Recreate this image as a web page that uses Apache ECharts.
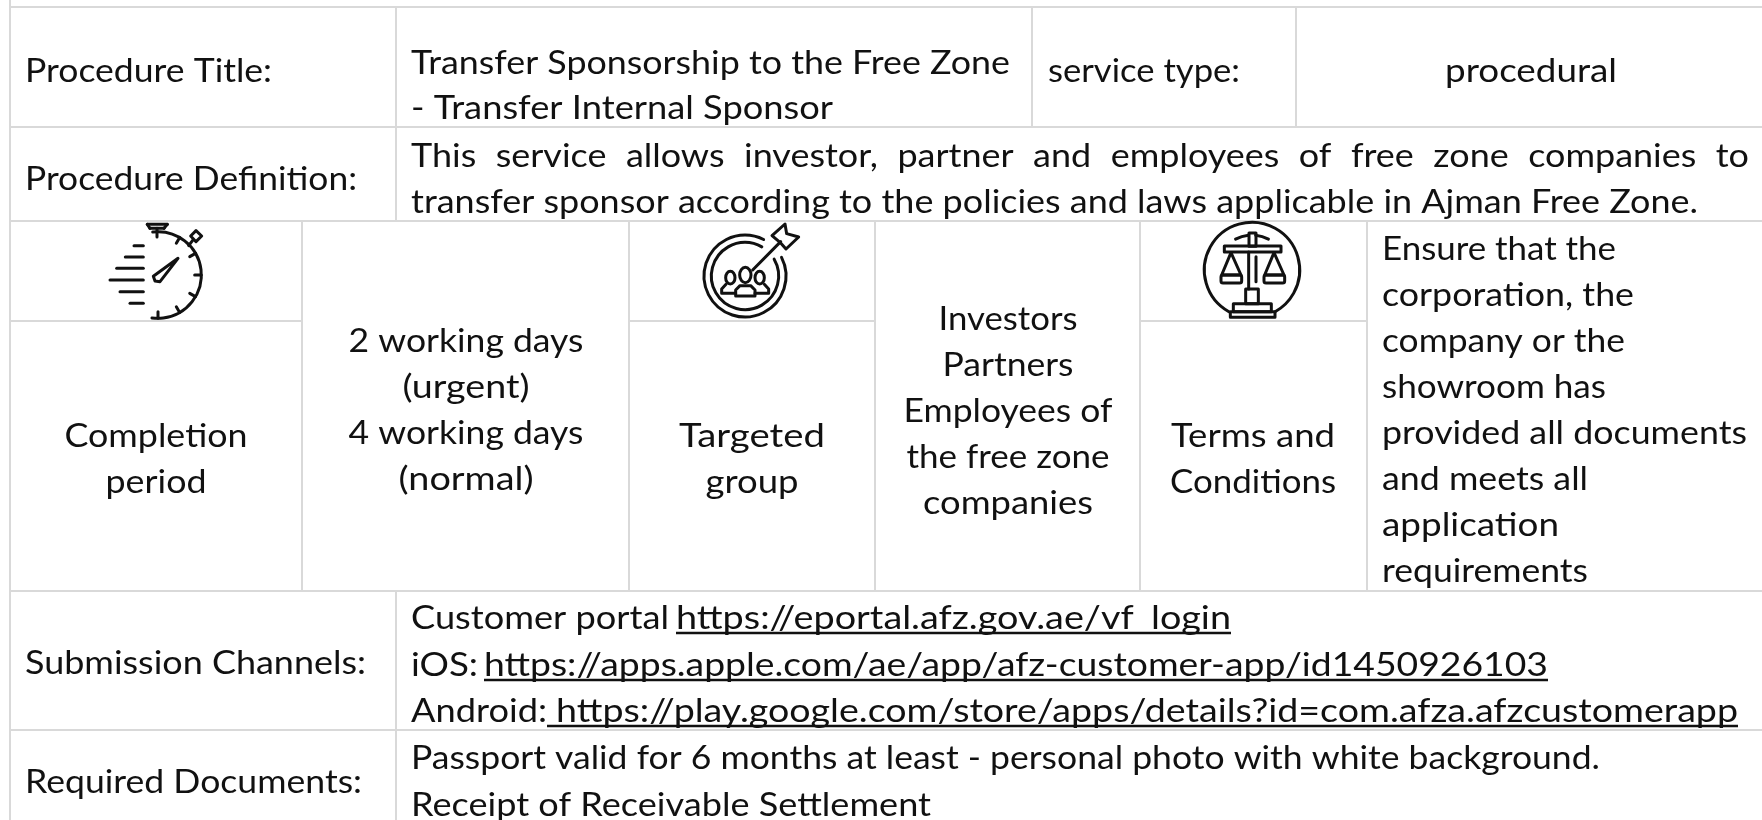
<!DOCTYPE html>
<html>
<head>
<meta charset="utf-8">
<style>
html, body { margin: 0; padding: 0; background: #fff; }
#main { width: 1762px; height: 820px; }
</style>
<script src="https://cdn.jsdelivr.net/npm/echarts@6/dist/echarts.min.js"></script>
</head>
<body>
<div id="main"></div>
<script>
// table text
const procedureTitleLabel = ["Procedure Title:"]
const procedureTitle = ["Transfer Sponsorship to the Free Zone", "- Transfer Internal Sponsor"]
const serviceTypeLabel = ["service type:"]
const serviceType = ["procedural"]
const definitionLabel = ["Procedure Definition:"]
const definitionJustified = ["This service allows investor, partner and employees of free zone companies to"]
const definitionLast = ["transfer sponsor according to the policies and laws applicable in Ajman Free Zone."]
const completionLabel = ["Completion", "period"]
const completionValue = ["2 working days", "(urgent)", "4 working days", "(normal)"]
const targetLabel = ["Targeted", "group"]
const targetValue = ["Investors", "Partners", "Employees of", "the free zone", "companies"]
const termsLabel = ["Terms and", "Conditions"]
const termsValue = ["Ensure that the", "corporation, the", "company or the", "showroom has", "provided all documents", "and meets all", "application", "requirements"]
const channelsLabel = ["Submission Channels:"]
const channelNames = ["Customer portal", "iOS:", "Android:"]
const channelLinks = ["https://eportal.afz.gov.ae/vf_login", "https://apps.apple.com/ae/app/afz-customer-app/id1450926103", "https://play.google.com/store/apps/details?id=com.afza.afzcustomerapp"]
const documentsLabel = ["Required Documents:"]
const documentsValue = ["Passport valid for 6 months at least - personal photo with white background.", "Receipt of Receivable Settlement"]

const FONT = "32px Lato"
const INK = "#111"
const RULE = "#d9d9d9"
const BASELINE_SHIFT = 25 // zrender draws from the top of the line box

// table rules, in picture pixels
const yTop = -5, y1 = 7, y2 = 127, y3 = 221, y4 = 321, y5 = 591, y6 = 730, yEnd = 830
const xL = 10, xA = 302, xB = 396, xC = 629, xD = 875, xE = 1032, xF = 1140, xG = 1296, xH = 1367, xR = 1770
const cells = [
	[xL, yTop, xR, y1],
	[xL, y1, xB, y2], [xB, y1, xE, y2], [xE, y1, xG, y2], [xG, y1, xR, y2],
	[xL, y2, xB, y3], [xB, y2, xR, y3],
	[xL, y3, xA, y4], [xC, y3, xD, y4], [xF, y3, xH, y4],
	[xL, y4, xA, y5], [xC, y4, xD, y5], [xF, y4, xH, y5],
	[xA, y3, xC, y5], [xD, y3, xF, y5], [xH, y3, xR, y5],
	[xL, y5, xB, y6], [xB, y5, xR, y6],
	[xL, y6, xB, yEnd], [xB, y6, xR, yEnd]
]

const measure = document.createElement("canvas").getContext("2d")
measure.font = FONT
const textWidth = s => measure.measureText(s).width

// every text run: [x, baseline, text, target width]
const runs = []
const underlines = []
function left(lines, x, y, widths, step = 46) {
	lines.forEach((t, i) => runs.push([x, y + i * step, t, widths[i]]))
}
function centered(lines, cx, y, widths, step = 46) {
	lines.forEach((t, i) => runs.push([cx - widths[i] / 2, y + i * step, t, widths[i]]))
}

left(procedureTitleLabel, 25, 81, [247])
left(procedureTitle, 411, 73, [599, 422], 45)
left(serviceTypeLabel, 1048, 81, [192])
centered(serviceType, 1531, 81, [172])
left(definitionLabel, 25, 189, [332])
left(definitionLast, 411, 212, [1287])

// first definition line is justified, so spread the words out
const wordScale = 1287 / textWidth(definitionLast[0])
const justifyWords = definitionJustified[0].split(" ")
const wordWidths = justifyWords.map(w => textWidth(w) * wordScale)
const wordGap = (1338 - wordWidths.reduce((a, b) => a + b, 0)) / (justifyWords.length - 1)
let wordX = 411
justifyWords.forEach((w, i) => {
	runs.push([wordX, 166, w, wordWidths[i]])
	wordX += wordWidths[i] + wordGap
})

centered(completionLabel, 156, 446, [183, 101])
centered(completionValue, 466, 351, [235, 127, 235, 135])
centered(targetLabel, 752, 446, [146, 93])
centered(targetValue, 1008, 329, [139, 131, 209, 203, 170])
centered(termsLabel, 1253, 446, [164, 166])
left(termsValue, 1382, 259, [234, 252, 243, 224, 365, 206, 177, 206])
left(channelsLabel, 25, 673, [341])

const channelBase = [628, 675, 721]
const nameWidths = [258, 67, 136]
const linkStart = [676, 484, 556]
const linkEnd = [1231, 1548, 1738]
const lineStart = [676, 484, 547]
channelNames.forEach((t, i) => {
	runs.push([411, channelBase[i], t, nameWidths[i]])
	runs.push([linkStart[i], channelBase[i], channelLinks[i], linkEnd[i] - linkStart[i]])
	underlines.push([lineStart[i], channelBase[i] + 5, linkEnd[i], channelBase[i] + 5])
})

left(documentsLabel, 25, 792, [337])
left(documentsValue, 411, 768, [1189, 520], 47)

// icon parts, in crop units that are 3x picture pixels
const stroke = { stroke: INK, lineWidth: 3, fill: null, lineCap: "round", lineJoin: "round" }
const ln = (a, b, c, d, w) => ({ type: "line", shape: { x1: a / 3, y1: b / 3, x2: c / 3, y2: d / 3 }, style: w ? { ...stroke, lineWidth: w } : stroke })
const arc = (cx, cy, r, a0, a1, w) => ({ type: "arc", shape: { cx: cx / 3, cy: cy / 3, r: r / 3, startAngle: a0 * Math.PI / 180, endAngle: a1 * Math.PI / 180, clockwise: true }, style: w ? { ...stroke, lineWidth: w } : stroke })
const poly = pts => ({ type: "polygon", shape: { points: pts.map(p => [p[0] / 3, p[1] / 3]) }, style: stroke })
const path = pts => ({ type: "polyline", shape: { points: pts.map(p => [p[0] / 3, p[1] / 3]) }, style: stroke })
const box = (x, y, w, h, r) => ({ type: "rect", shape: { x: x / 3, y: y / 3, width: w / 3, height: h / 3, r: (r || 0) / 3 }, style: stroke })
const oval = (cx, cy, rx, ry) => ({ type: "ellipse", shape: { cx: cx / 3, cy: cy / 3, rx: rx / 3, ry: ry / 3 }, style: stroke })

function tick(cx, cy, r, deg) {
	const a = deg * Math.PI / 180
	return ln(cx + r * Math.cos(a), cy + r * Math.sin(a), cx + (r - 20) * Math.cos(a), cy + (r - 20) * Math.sin(a))
}

const stopwatch = [
	arc(204, 180, 130, -97, 98),
	ln(172, 28, 232, 28), ln(172, 28, 180, 40), ln(232, 28, 222, 40), ln(180, 40, 222, 40), ln(201, 40, 201, 66),
	poly([[318, 47], [335, 63], [318, 80], [302, 63]]), ln(308, 76, 296, 92),
	ln(132, 92, 160, 92), ln(106, 126, 160, 126), ln(80, 160, 160, 160), ln(60, 195, 160, 195), ln(90, 230, 160, 230), ln(120, 265, 160, 265),
	poly([[264, 130], [210, 200], [195, 198], [190, 184]]),
	tick(204, 180, 130, -60), tick(204, 180, 130, -30), tick(204, 180, 130, 0), tick(204, 180, 130, 30), tick(204, 180, 130, 60), tick(204, 180, 130, 90)
]

const target = [
	arc(195, 183, 123, -27, 297), arc(195, 183, 101, -30, 300),
	ln(218, 165, 302, 80),
	poly([[276, 62], [315, 27], [320, 56], [356, 66], [318, 102], [300, 82]]),
	oval(196, 180, 17, 23), oval(151, 188, 14, 19), oval(239, 188, 14, 19),
	path([[167, 243], [167, 225], [180, 212], [212, 212], [225, 225], [225, 243], [167, 243]]),
	path([[167, 235], [125, 235], [125, 222], [138, 208]]),
	path([[225, 235], [266, 235], [266, 222], [253, 208]])
]

const scales = [
	arc(216, 165, 143, 119, 61),
	arc(216, 165, 105, -118, -96), arc(216, 165, 105, -84, -62),
	box(207, 54, 21, 40), box(133, 93, 170, 18),
	ln(206, 111, 206, 222), ln(228, 125, 228, 200),
	box(197, 222, 38, 44),
	box(160, 266, 114, 24), box(151, 290, 134, 17),
	path([[153, 113], [125, 180], [183, 180], [153, 113]]),
	path([[282, 113], [254, 180], [312, 180], [282, 113]]),
	box(123, 180, 62, 24, 6), box(252, 180, 62, 24, 6)
]

const iconOrigins = [[90, 215], [680, 215], [1180, 215]]
const iconParts = [stopwatch, target, scales]

const chart = echarts.init(document.getElementById("main"))
chart.setOption({
	animation: false,
	backgroundColor: "#fff",
	grid: { left: 0, right: 0, top: 0, bottom: 0 },
	xAxis: { type: "value", min: 0, max: 1762, show: false },
	yAxis: { type: "value", min: 0, max: 820, inverse: true, show: false },
	series: [
		{
			type: "custom",
			coordinateSystem: "cartesian2d",
			silent: true,
			data: cells,
			renderItem(params, api) {
				const a = api.coord([api.value(0), api.value(1)])
				const b = api.coord([api.value(2), api.value(3)])
				return {
					type: "rect",
					shape: { x: a[0], y: a[1], width: b[0] - a[0], height: b[1] - a[1] },
					style: { fill: null, stroke: RULE, lineWidth: 2 }
				}
			}
		},
		{
			type: "custom",
			coordinateSystem: "cartesian2d",
			silent: true,
			data: iconOrigins,
			renderItem(params, api) {
				const p = api.coord([api.value(0), api.value(1)])
				return { type: "group", x: p[0], y: p[1], children: iconParts[params.dataIndex] }
			}
		},
		{
			type: "custom",
			coordinateSystem: "cartesian2d",
			silent: true,
			data: underlines,
			renderItem(params, api) {
				const a = api.coord([api.value(0), api.value(1)])
				const b = api.coord([api.value(2), api.value(3)])
				return {
					type: "line",
					shape: { x1: a[0], y1: a[1], x2: b[0], y2: b[1] },
					style: { stroke: INK, lineWidth: 2.5 }
				}
			}
		},
		{
			type: "custom",
			coordinateSystem: "cartesian2d",
			silent: true,
			data: runs.map(r => [r[0], r[1]]),
			renderItem(params, api) {
				const run = runs[params.dataIndex]
				const p = api.coord([api.value(0), api.value(1)])
				return {
					type: "text",
					x: p[0],
					y: p[1] - BASELINE_SHIFT,
					scaleX: run[3] / textWidth(run[2]),
					style: { text: run[2], font: FONT, fill: INK, textAlign: "left", textBaseline: "alphabetic" }
				}
			}
		}
	]
})
</script>
</body>
</html>
